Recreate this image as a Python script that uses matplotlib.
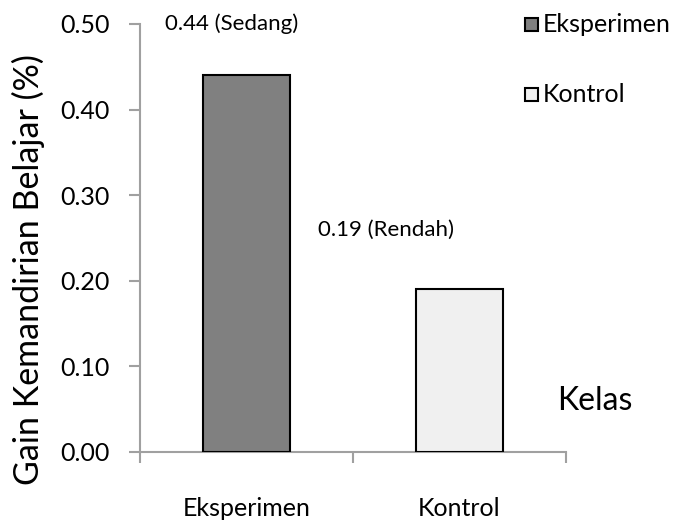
import matplotlib.pyplot as plt
from matplotlib.patches import Rectangle

kelas = ['Eksperimen', 'Kontrol']
gain = [0.44, 0.19]
kategori = ['Sedang', 'Rendah']
warna = ['#808080', '#f0f0f0']
yticks = [0.0, 0.1, 0.2, 0.3, 0.4, 0.5]

plt.rcParams['font.family'] = ['Lato', 'DejaVu Sans']

fig = plt.figure(figsize=(6.85, 5.26), dpi=100)
ax = fig.add_axes([0.2044, 0.1407, 0.6219, 0.8137])

x = [0.5, 1.5]
ax.bar(x, gain, width=0.41, color=warna, edgecolor='black', linewidth=1.5, zorder=3)

ax.set_xlim(0, 2)
ax.set_ylim(0, 0.5)
ax.set_yticks(yticks)
ax.set_yticklabels(['%.2f' % v for v in yticks], fontsize=18)
ax.set_xticks([0, 1, 2])
ax.set_xticklabels([])
ax.tick_params(axis='both', direction='out', length=8, width=1.5, color='#a0a0a0', pad=14)
for s in ['top', 'right']:
    ax.spines[s].set_visible(False)
for s in ['left', 'bottom']:
    ax.spines[s].set_color('#a0a0a0')
    ax.spines[s].set_linewidth(1.5)

for xi, nama in zip(x, kelas):
    ax.text(xi, -0.066, nama, ha='center', va='center', fontsize=18, clip_on=False)

# label nilai gain di atas batang
ax.text(0.117, 0.5, '%.2f (%s)' % (gain[0], kategori[0]), ha='left', va='center', fontsize=16)
ax.text(0.836, 0.26, '%.2f (%s)' % (gain[1], kategori[1]), ha='left', va='center', fontsize=16)

fig.text(0.042, 0.487, 'Gain Kemandirian Belajar (%)', fontsize=24.5, rotation=90,
         ha='center', va='center')
fig.text(0.813, 0.238, 'Kelas', fontsize=23, ha='left', va='center')

# legenda manual di kanan atas
for i, (nama, c) in enumerate(zip(kelas, warna)):
    yy = 0.953 - i * 0.133
    fig.patches.append(Rectangle((0.767, yy - 0.012), 0.018, 0.024, transform=fig.transFigure,
                                 facecolor=c, edgecolor='black', linewidth=1.5))
    fig.text(0.793, yy, nama, fontsize=18, ha='left', va='center')

fig.savefig('out.png', dpi=100)
